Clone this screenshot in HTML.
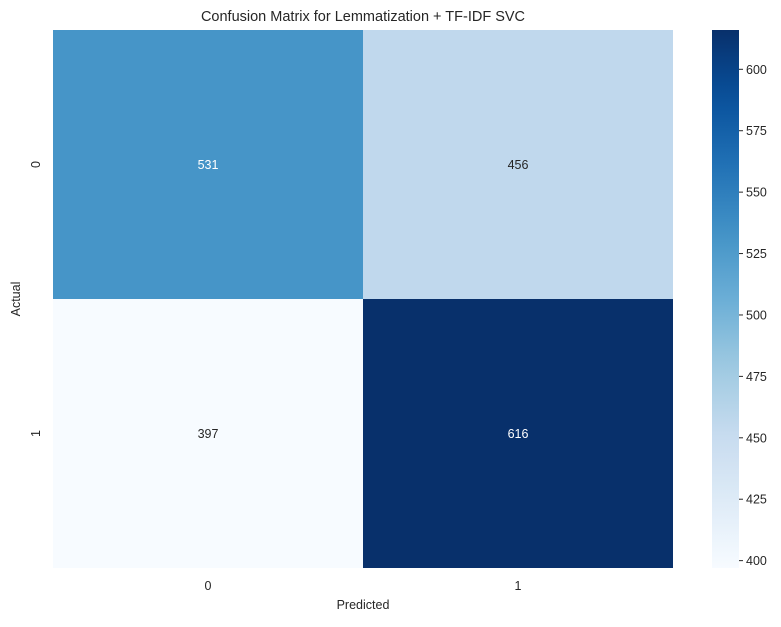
<!DOCTYPE html>
<html><head><meta charset="utf-8"><style>
body{margin:0;background:#fff;}
svg text{font-family:"Liberation Sans",Arial,sans-serif;fill:#262626;}
</style></head><body>
<svg id="chart" width="781" height="622" xmlns="http://www.w3.org/2000/svg">
<defs><linearGradient id="cbgrad" x1="0" y1="1" x2="0" y2="0"></linearGradient></defs>
<text x="363" y="21" font-size="14.5" text-anchor="middle">Confusion Matrix for Lemmatization + TF-IDF SVC</text>
<g id="cells"></g><g id="axes"></g><g id="cbar"></g>
</svg>
<script>
const rowLabels=["0","1"];
const colLabels=["0","1"];
const values=[[531,456],[397,616]];
const cbTicks=[400,425,450,475,500,525,550,575,600];
const NS="http://www.w3.org/2000/svg";
const X0=53,X1=673,Y0=30,Y1=568,CBX=712,CBW=27;
const flat=values.flat();const vmin=Math.min(...flat),vmax=Math.max(...flat);
const stops=["#f7fbff","#deebf7","#c6dbef","#9ecae1","#6baed6","#4292c6","#2171b5","#08519c","#08306b"];
function hex(h){return [1,3,5].map(i=>parseInt(h.substr(i,2),16));}
function cmap(t){t=Math.max(0,Math.min(1,t));const p=t*8,i=Math.min(7,Math.floor(p)),f=p-i;const a=hex(stops[i]),b=hex(stops[i+1]);return "rgb("+a.map((v,k)=>Math.round(v+(b[k]-v)*f)).join(",")+")";}
function norm(v){return (v-vmin)/(vmax-vmin);}
const cw=(X1-X0)/colLabels.length,ch=(Y1-Y0)/rowLabels.length;
function xs(j){return X0+j*cw;} function ys(i){return Y0+i*ch;}
function mk(tag,attrs,parent,text){const e=document.createElementNS(NS,tag);for(const k in attrs)e.setAttribute(k,attrs[k]);if(text!==undefined)e.textContent=text;document.getElementById(parent).appendChild(e);return e;}
values.forEach((row,i)=>row.forEach((v,j)=>{
 const r=mk("rect",{x:xs(j),y:ys(i),width:cw,height:ch,fill:cmap(norm(v))},"cells");
 
 
 const t=mk("text",{x:xs(j)+cw/2,y:ys(i)+ch/2+4.5,"font-size":"12.5","text-anchor":"middle",style:"fill:"+(norm(v)>0.5?"#fff":"#262626")},"cells",String(v));
 
 
}));
colLabels.forEach((l,j)=>{
 const t=mk("text",{x:xs(j)+cw/2,y:590,"font-size":"12.5","text-anchor":"middle"},"axes",l);
 
 
});
rowLabels.forEach((l,i)=>{
 const cy=ys(i)+ch/2;
 const t=mk("text",{x:0,y:0,"font-size":"12.5","text-anchor":"middle",transform:"translate(40,"+cy+") rotate(-90)"},"axes",l);
 
 
});
const xt=mk("text",{x:363,y:609,"font-size":"12.5","text-anchor":"middle"},"axes","Predicted");


const yt=mk("text",{x:0,y:0,"font-size":"12.5","text-anchor":"middle",transform:"translate(20,299) rotate(-90)"},"axes","Actual");


const g=document.getElementById("cbgrad");
for(let k=0;k<=20;k++){const s=document.createElementNS(NS,"stop");s.setAttribute("offset",k/20);s.setAttribute("stop-color",cmap(k/20));g.appendChild(s);}
const cb=mk("rect",{x:CBX,y:Y0,width:CBW,height:Y1-Y0,fill:"url(#cbgrad)"},"cbar");


function cby(v){return Y1-norm(v)*(Y1-Y0);}
cbTicks.forEach(v=>{
 const y=cby(v);
 const tk=mk("line",{x1:CBX+CBW,x2:CBX+CBW+4,y1:y,y2:y,stroke:"#262626","stroke-width":"1"},"cbar");
 
 
 const t=mk("text",{x:CBX+CBW+7,y:y+4.5,"font-size":"12.5"},"cbar",String(v));
 
 
});
</script>
</body></html>
